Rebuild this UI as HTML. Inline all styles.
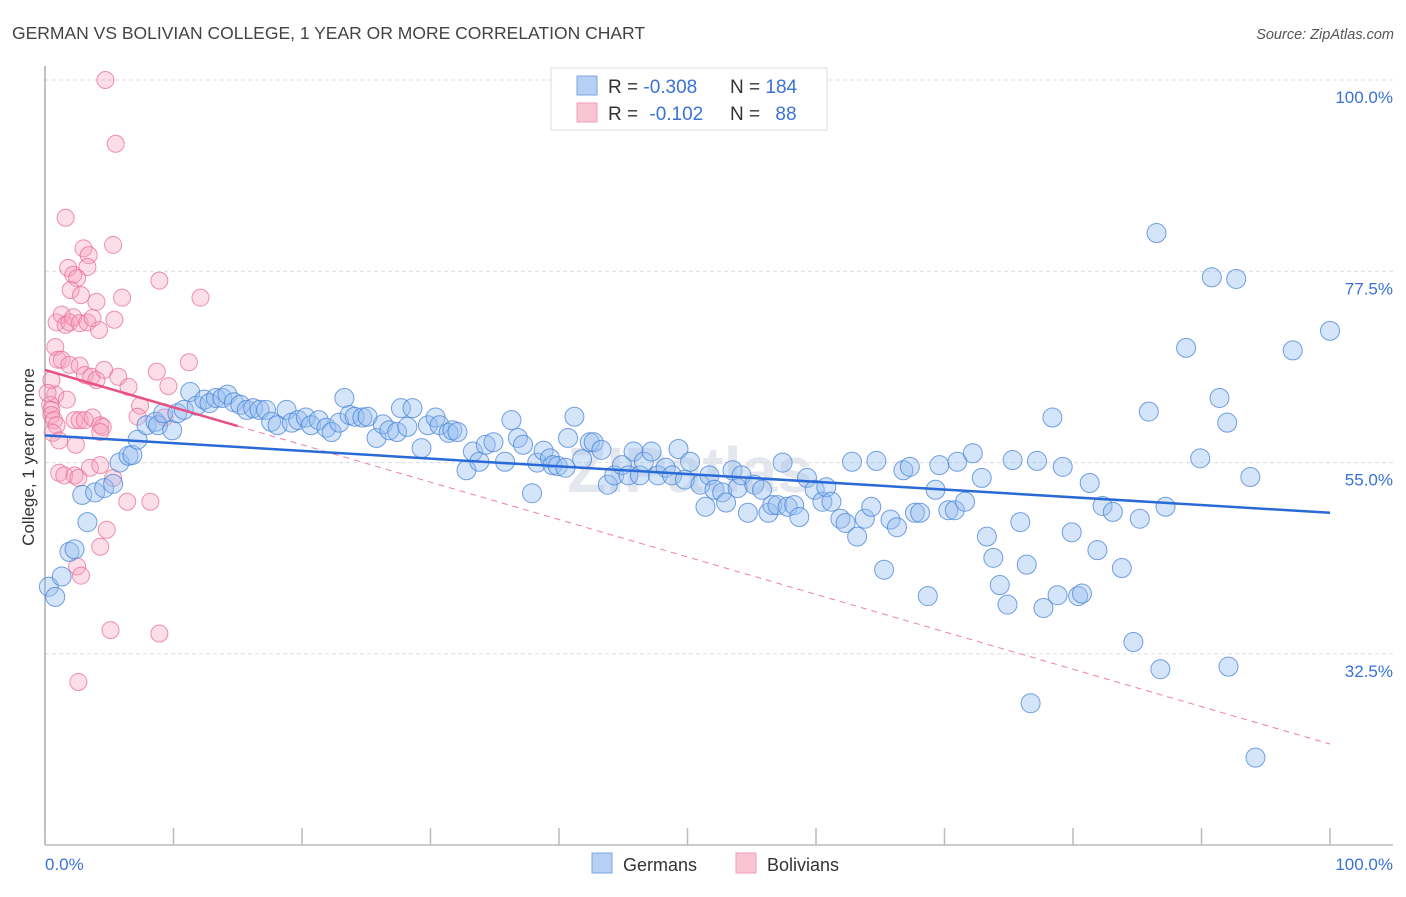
<!DOCTYPE html>
<html><head><meta charset="utf-8">
<style>
body{margin:0;background:#fff;font-family:"Liberation Sans",sans-serif;}
svg text{font-family:"Liberation Sans",sans-serif;}
</style></head>
<body>
<svg id="chart" width="1406" height="892" viewBox="0 0 1406 892" xmlns="http://www.w3.org/2000/svg">
<text x="12" y="39" font-size="17.5" fill="#444">GERMAN VS BOLIVIAN COLLEGE, 1 YEAR OR MORE CORRELATION CHART</text>
<text x="1394" y="39" font-size="14.5" fill="#555" font-style="italic" text-anchor="end">Source: ZipAtlas.com</text>
<text x="690" y="492" font-size="64" fill="#e4e8ee" text-anchor="middle" font-weight="bold">ZIPatlas</text>
<g id="grid"></g>
<g id="yticks"></g>
<g id="xaxis"></g>
<text transform="translate(34,457) rotate(-90)" font-size="17" fill="#333" text-anchor="middle">College, 1 year or more</text>
<g id="pink"></g>
<g id="blue"></g>
<g id="trends"></g>
<g>
<rect x="551" y="68" width="276" height="62" fill="#fff" stroke="#ddd"/>
<rect x="577" y="76" width="20" height="19" fill="#b6d0f3" stroke="#7aa6e4"/>
<rect x="577" y="103" width="20" height="19" fill="#f9c4d4" stroke="#ef9fb8"/>
<text x="608" y="93" font-size="19" fill="#333">R = <tspan fill="#3a72d6">-0.308</tspan></text>
<text x="730" y="93" font-size="19" fill="#333">N = <tspan fill="#3a72d6">184</tspan></text>
<text x="608" y="120" font-size="19" fill="#333">R = <tspan fill="#3a72d6" dx="6">-0.102</tspan></text>
<text x="730" y="120" font-size="19" fill="#333">N = <tspan fill="#3a72d6" dx="10">88</tspan></text>
</g>
<g>
<rect x="592" y="853" width="20" height="20" fill="#b6d0f3" stroke="#7aa6e4"/>
<text x="623" y="871" font-size="18" fill="#333">Germans</text>
<rect x="736" y="853" width="20" height="20" fill="#f9c4d4" stroke="#ef9fb8"/>
<text x="767" y="871" font-size="18" fill="#333">Bolivians</text>
</g>
</svg>
<script>
const yTicks=[100,77.5,55,32.5];
const yTickLabels=["100.0%","77.5%","55.0%","32.5%"];
const xTicks=[0,10,20,30,40,50,60,70,80,90,100];
const xEndLabels=["0.0%","100.0%"];
const germansX=[0.3,0.8,1.3,1.9,2.3,2.9,3.3,3.9,4.6,5.3,5.8,6.5,6.8,7.2,7.9,8.6,8.8,9.2,9.9,10.3,10.8,11.3,11.8,12.4,12.8,13.3,13.8,14.2,14.7,15.2,15.7,16.2,16.7,17.2,17.6,18.1,18.8,19.2,19.7,20.3,20.7,21.3,21.9,22.3,22.9,23.3,23.7,24.1,24.7,25.1,25.8,26.3,26.8,27.4,27.7,28.2,28.6,29.3,29.8,30.4,30.7,31.4,31.7,32.1,32.8,33.3,33.8,34.3,34.9,35.8,36.3,36.8,37.2,37.9,38.3,38.8,39.3,39.5,39.9,40.5,40.7,41.2,41.8,42.4,42.7,43.3,43.8,44.3,44.9,45.4,45.8,46.3,46.6,47.2,47.7,48.3,48.8,49.3,49.8,50.2,51.0,51.4,51.7,52.1,52.7,53.0,53.5,53.9,54.2,54.7,55.2,55.8,56.3,56.6,57.0,57.4,57.8,58.3,58.7,59.3,59.9,60.5,60.8,61.2,61.9,62.3,62.8,63.2,63.8,64.3,64.7,65.3,65.8,66.3,66.8,67.3,67.7,68.1,68.7,69.3,69.6,70.3,70.8,71.0,71.6,72.2,72.9,73.3,73.8,74.3,74.9,75.3,75.9,76.4,76.7,77.2,77.7,78.4,78.8,79.2,79.9,80.4,80.7,81.3,81.9,82.3,83.1,83.8,84.7,85.2,85.9,86.5,86.8,87.2,88.8,89.9,90.8,91.4,92.0,92.1,92.7,93.8,94.2,97.1,100.0];
const germansY=[40.4,39.2,41.6,44.5,44.8,51.2,48.0,51.5,52.0,52.5,55.0,55.8,55.9,57.7,59.4,59.8,59.4,60.8,58.8,60.8,61.2,63.3,61.7,62.4,62.0,62.6,62.6,63.0,62.1,61.8,61.2,61.4,61.2,61.2,59.8,59.4,61.2,59.7,60.0,60.3,59.4,60.0,59.1,58.6,59.7,62.6,60.6,60.4,60.3,60.4,57.9,59.5,58.8,58.6,61.4,59.2,61.4,56.7,59.4,60.3,59.4,58.5,58.8,58.6,54.1,56.3,55.1,57.1,57.4,55.1,60.0,57.9,57.1,51.4,55.0,56.4,55.5,54.7,54.6,54.4,57.9,60.4,55.4,57.4,57.4,56.5,52.4,53.5,54.7,53.5,56.3,53.5,55.1,56.3,53.5,54.4,53.5,56.6,53.0,55.1,52.4,49.8,53.5,51.8,51.5,50.3,54.1,52.0,53.5,49.1,52.4,51.8,49.1,50.0,50.0,55.0,49.8,50.0,48.6,53.2,51.8,50.4,52.1,50.4,48.4,47.9,55.1,46.3,48.4,49.8,55.2,42.4,48.3,47.4,54.1,54.5,49.1,49.1,39.3,51.8,54.7,49.4,49.4,55.1,50.4,56.1,53.2,46.3,43.8,40.6,38.3,55.3,48.0,43.0,26.7,55.2,37.9,60.3,39.4,54.5,46.8,39.3,39.6,52.6,44.7,49.9,49.2,42.6,33.9,48.4,61.0,82.0,30.7,49.8,68.5,55.5,76.8,62.6,59.7,31.0,76.6,53.3,20.3,68.2,70.5];
const boliviansX=[4.7,5.5,1.6,3.0,3.4,5.3,1.8,3.3,2.2,2.5,2.0,2.8,4.0,6.0,8.9,12.1,0.9,1.3,1.6,1.9,2.2,2.7,3.3,4.2,5.4,3.7,0.8,1.0,1.3,1.9,2.7,3.1,3.6,4.0,4.6,5.7,6.5,11.2,8.7,9.6,7.4,0.5,0.8,0.4,0.5,0.5,0.7,0.9,2.3,2.7,3.1,3.7,4.3,4.5,7.2,9.3,0.6,0.2,1.1,1.5,2.3,2.6,3.5,4.3,5.3,6.4,8.2,2.4,4.3,4.8,4.3,2.5,2.8,5.1,8.9,2.6,1.7,1.1];
const boliviansY=[100,92.5,83.8,80.2,79.4,80.6,77.9,78.0,77.1,76.7,75.3,74.7,73.9,74.4,76.4,74.4,71.5,72.4,71.2,71.5,72.1,71.4,71.5,70.6,71.8,72.0,68.6,67.1,67.1,66.5,66.4,65.3,65.1,64.7,65.9,65.1,63.9,66.8,65.7,64.0,61.7,64.7,63.0,61.8,61.2,60.6,60.0,59.4,60.0,60.0,60.0,60.3,59.4,59.2,60.4,60.3,58.5,63.2,53.8,53.5,53.5,53.2,54.4,54.7,53.2,50.4,50.4,57.1,58.6,47.1,45.1,42.8,41.7,35.3,34.9,29.2,62.4,57.6];
const germansTrend=[58.2,49.1];
const boliviansTrend=[65.9,21.9];
const boliviansSolidEnd=15;

const NS="http://www.w3.org/2000/svg";
const X0=45,X1=1330,Y100=80,PXPER=191.3/22.5;
function sx(v){return X0+(X1-X0)*v/100;}
function sy(v){return Y100+(100-v)*PXPER;}
function mk(tag,attrs,parent){const e=document.createElementNS(NS,tag);for(const k in attrs)e.setAttribute(k,attrs[k]);parent.appendChild(e);return e;}

const grid=document.getElementById('grid');
const yt=document.getElementById('yticks');
yTicks.forEach((v,i)=>{
  const l=mk('line',{x1:45,x2:1393,y1:sy(v),y2:sy(v),stroke:'#dcdcdc','stroke-dasharray':'4,3'},grid);
  
  
  const t=mk('text',{x:1393,y:sy(v)+23,'font-size':17,fill:'#3a72d6','text-anchor':'end'},yt);
  t.textContent=yTickLabels[i];
  
  
});
const xa=document.getElementById('xaxis');
mk('line',{x1:45,x2:45,y1:66,y2:845,stroke:'#aaa','stroke-width':1.5},xa);
mk('line',{x1:45,x2:1393,y1:845,y2:845,stroke:'#bbb','stroke-width':1.5},xa);
xTicks.forEach(v=>{
  const t=mk('line',{x1:sx(v),x2:sx(v),y1:828,y2:845,stroke:'#bbb','stroke-width':1.5},xa);
  
  
});
const xl0=mk('text',{x:45,y:870,'font-size':17,fill:'#3a72d6'},xa);xl0.textContent=xEndLabels[0];


const xl1=mk('text',{x:1393,y:870,'font-size':17,fill:'#3a72d6','text-anchor':'end'},xa);xl1.textContent=xEndLabels[1];



const pg=document.getElementById('pink');
boliviansX.forEach((v,i)=>{
  const c=mk('circle',{cx:sx(v),cy:sy(boliviansY[i]),r:8.5,fill:'rgba(246,160,188,0.35)',stroke:'rgba(232,110,150,0.75)','stroke-width':1},pg);
  
  
});
const bg=document.getElementById('blue');
germansX.forEach((v,i)=>{
  const c=mk('circle',{cx:sx(v),cy:sy(germansY[i]),r:9.5,fill:'rgba(150,190,240,0.4)',stroke:'rgba(70,130,215,0.75)','stroke-width':1},bg);
  
  
});
const tg=document.getElementById('trends');
function pinkAt(x){return boliviansTrend[0]+(boliviansTrend[1]-boliviansTrend[0])*x/100;}
const pd=mk('line',{x1:sx(boliviansSolidEnd),y1:sy(pinkAt(boliviansSolidEnd)),x2:sx(100),y2:sy(boliviansTrend[1]),stroke:'#ee7fa2','stroke-width':1,'stroke-dasharray':'6,5'},tg);


const ps=mk('line',{x1:sx(0),y1:sy(boliviansTrend[0]),x2:sx(boliviansSolidEnd),y2:sy(pinkAt(boliviansSolidEnd)),stroke:'#e8517f','stroke-width':2.5},tg);


const bl=mk('line',{x1:sx(0),y1:sy(germansTrend[0]),x2:sx(100),y2:sy(germansTrend[1]),stroke:'#2a6ad6','stroke-width':2.5},tg);


</script>
</body></html>
